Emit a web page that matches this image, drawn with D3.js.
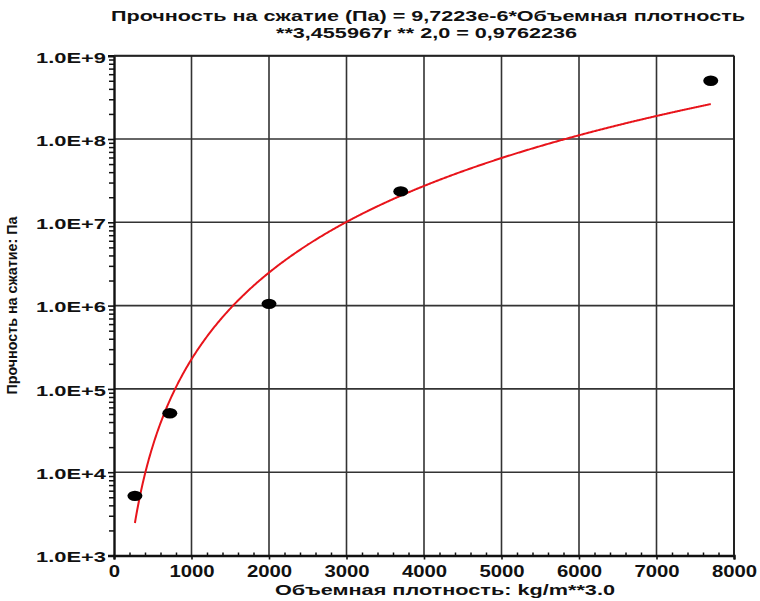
<!DOCTYPE html>
<html>
<head>
<meta charset="utf-8">
<script src="https://cdn.jsdelivr.net/npm/d3@7"></script>
<style>
  html, body { margin: 0; padding: 0; background: #fff; }
  svg { display: block; }
  text { font-family: "Liberation Sans", Arial, sans-serif; font-weight: bold; fill: #111; }
</style>
</head>
<body>
<svg id="chart" width="760" height="601"></svg>
<script>
// Measured samples: bulk density (kg/m^3) vs compressive strength (Pa)
const density  = [270, 720, 2000, 3700, 7700];
const strength = [5.2e3, 5.1e4, 1.05e6, 2.35e7, 5.0e8];

// Power-law fit reported in the title: strength = FIT_A * density ^ FIT_B
const FIT_A = 9.7223e-6;
const FIT_B = 3.455967;
const FIT_R2 = "0,9762236";

const xTicks = [0, 1000, 2000, 3000, 4000, 5000, 6000, 7000, 8000];
const yTicks = [1e3, 1e4, 1e5, 1e6, 1e7, 1e8, 1e9];
const yTickLabels = ["1.0E+3", "1.0E+4", "1.0E+5", "1.0E+6", "1.0E+7", "1.0E+8", "1.0E+9"];

const titleLines = [
  "Прочность на сжатие (Па) = 9,7223e-6*Объемная плотность",
  "**3,455967r ** 2,0 = " + FIT_R2
];
const xTitle = "Объемная плотность: kg/m**3.0";
const yTitle = "Прочность на сжатие: Па";

const svg = d3.select("#chart");
const plot = { left: 114, right: 734, top: 55.7, bottom: 555.5 };

const x = d3.scaleLinear().domain([0, 8000]).range([plot.left, plot.right]);
const y = d3.scaleLog().domain([1e3, 1e9]).range([plot.bottom, plot.top]);

// Stretch a text element horizontally by a factor, or to a fixed width
function widen(sel, factor, width) {
  sel.each(function () {
    const w = width || this.getComputedTextLength() * factor;
    d3.select(this).attr("textLength", w).attr("lengthAdjust", "spacingAndGlyphs");
  });
}

// Grid
const grid = svg.append("g").attr("stroke", "#333").attr("stroke-width", 1.6);
grid.selectAll("line.v").data(xTicks.slice(1)).join("line")
  .attr("x1", d => x(d)).attr("x2", d => x(d))
  .attr("y1", plot.top).attr("y2", plot.bottom);
grid.selectAll("line.h").data(yTicks.slice(1)).join("line")
  .attr("x1", plot.left).attr("x2", plot.right)
  .attr("y1", d => y(d)).attr("y2", d => y(d));

// Minor ticks
const yMinor = [];
for (let e = 3; e < 9; e++) for (let m = 2; m <= 9; m++) yMinor.push(m * 10 ** e);
const xMinor = d3.range(0, 8001, 200).filter(v => v % 1000 !== 0);

const yMinorAxis = svg.append("g").attr("transform", `translate(${plot.left},0)`)
  .call(d3.axisLeft(y).tickValues(yMinor).tickSize(5).tickFormat(""));
const xMinorAxis = svg.append("g").attr("transform", `translate(0,${plot.bottom})`)
  .call(d3.axisTop(x).tickValues(xMinor).tickSize(3).tickFormat(""));
[yMinorAxis, xMinorAxis].forEach(g => {
  g.select(".domain").remove();
  g.selectAll(".tick line").attr("stroke", "#111").attr("stroke-width", 1.5);
});

// Major axes
const yAxis = svg.append("g").attr("transform", `translate(${plot.left},0)`)
  .call(d3.axisLeft(y).tickValues(yTicks).tickSize(6).tickPadding(2)
    .tickFormat((d, i) => yTickLabels[i]));
yAxis.select(".domain").attr("stroke", "#111").attr("stroke-width", 2.4);
yAxis.selectAll(".tick line").attr("stroke", "#111").attr("stroke-width", 1.6);
yAxis.selectAll(".tick text")
  .attr("font-size", 15).attr("fill", "#111").attr("dy", "0.42em")
  .attr("font-family", "Liberation Sans, Arial, sans-serif").attr("font-weight", "bold");

const xAxis = svg.append("g").attr("transform", `translate(0,${plot.bottom})`)
  .call(d3.axisBottom(x).tickValues(xTicks).tickSize(4).tickPadding(6)
    .tickFormat(d3.format("d")));
xAxis.select(".domain").attr("stroke", "#111").attr("stroke-width", 2.4);
xAxis.selectAll(".tick line").attr("stroke", "#111").attr("stroke-width", 1.6);
xAxis.selectAll(".tick text")
  .attr("font-size", 16).attr("fill", "#111")
  .attr("font-family", "Liberation Sans, Arial, sans-serif").attr("font-weight", "bold");

// Top and right frame
svg.append("line").attr("x1", plot.left).attr("x2", plot.right)
  .attr("y1", plot.top).attr("y2", plot.top).attr("stroke", "#222").attr("stroke-width", 2);
svg.append("line").attr("x1", plot.right).attr("x2", plot.right)
  .attr("y1", plot.top).attr("y2", plot.bottom).attr("stroke", "#222").attr("stroke-width", 2);

widen(yAxis.selectAll(".tick text"), 1, 70);
widen(xAxis.selectAll(".tick text"), 1.27);

// Fitted curve over the measured range
const fitX = d3.range(density[0], density[density.length - 1] + 1, 10);
const fitPts = fitX.map(v => [v, FIT_A * Math.pow(v, FIT_B)]);
svg.append("path")
  .datum(fitPts)
  .attr("fill", "none").attr("stroke", "#e8141b").attr("stroke-width", 2)
  .attr("d", d3.line().x(d => x(d[0])).y(d => y(d[1])));

// Sample points
svg.append("g").selectAll("ellipse")
  .data(density.map((d, i) => [d, strength[i]]))
  .join("ellipse")
  .attr("cx", d => x(d[0])).attr("cy", d => y(d[1]))
  .attr("rx", 7.5).attr("ry", 5.2).attr("fill", "#000");

// Titles
const t = svg.append("g");
t.append("text").attr("x", 428).attr("y", 21).attr("text-anchor", "middle")
  .attr("font-size", 14).text(titleLines[0]).call(widen, 1, 634);
t.append("text").attr("x", 426.5).attr("y", 37.5).attr("text-anchor", "middle")
  .attr("font-size", 14).text(titleLines[1]).call(widen, 1, 301);

svg.append("text").attr("x", 445).attr("y", 595).attr("text-anchor", "middle")
  .attr("font-size", 15).text(xTitle).call(widen, 1, 340);

svg.append("text")
  .attr("transform", `translate(17,${(plot.top + plot.bottom) / 2}) rotate(-90)`)
  .attr("text-anchor", "middle").attr("font-size", 14)
  .text(yTitle).call(widen, 1, 178);
</script>
</body>
</html>
